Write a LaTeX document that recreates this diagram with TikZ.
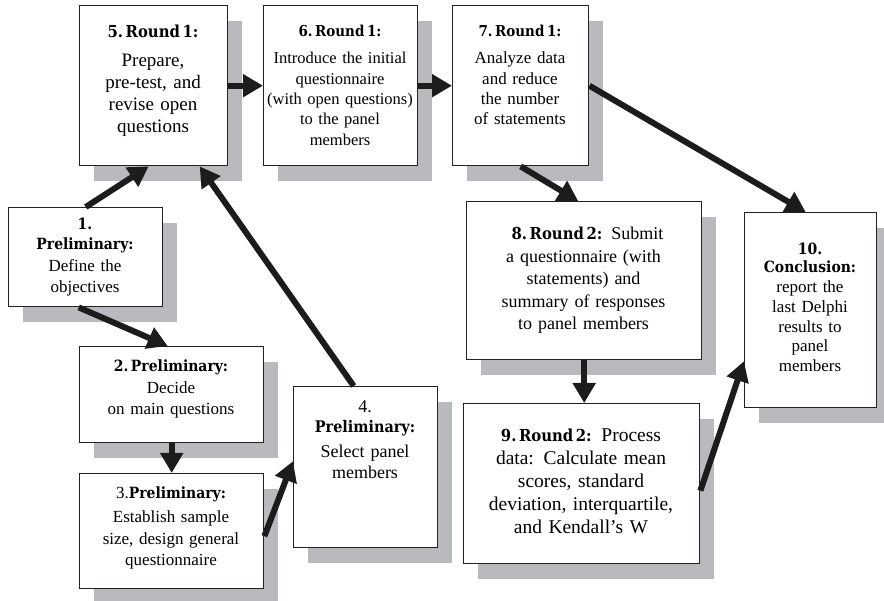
\documentclass[tikz,border=0pt]{standalone}
\usepackage{fontspec}
\setmainfont{Liberation Serif}
\newfontfamily\hfont[BoldFont={DejaVu Serif Condensed Bold}]{DejaVu Serif Condensed}
\usetikzlibrary{arrows.meta,shadows}
\definecolor{shadowc}{RGB}{185,186,190}
\definecolor{arrowc}{RGB}{28,28,28}
\definecolor{borderc}{RGB}{34,34,34}
\newcommand\hd[2][15.5]{{\hfont\bfseries\fontsize{#1}{#1}\selectfont #2}}
\newcommand\hsp{\hspace{2.6pt}}
\begin{document}
\begin{tikzpicture}[x=1pt,y=-1pt,
  box/.style={draw=borderc, line width=1.4pt, fill=white, anchor=north west, inner sep=0pt,
    drop shadow={shadow xshift=14pt, shadow yshift=-15pt, fill=shadowc, opacity=1}},
  txt/.style={anchor=base, align=center, inner sep=0pt, text width=#1},
  txt/.default=140pt,
  arr/.style={line width=6pt, draw=arrowc, -{Triangle[length=20pt,width=22pt]}}]
\useasboundingbox (0,0) rectangle (884,601);
% boxes
\node[box, minimum width=154pt, minimum height=99pt]  (b1)  at (8,207)  {};
\node[box, minimum width=184pt, minimum height=96pt]  (b2)  at (79,346) {};
\node[box, minimum width=184pt, minimum height=115pt] (b3)  at (79,473) {};
\node[box, minimum width=144pt, minimum height=161pt] (b4)  at (293,386) {};
\node[box, minimum width=148pt, minimum height=160pt] (b5)  at (79,5) {};
\node[box, minimum width=154pt, minimum height=160pt] (b6)  at (263,5) {};
\node[box, minimum width=136pt, minimum height=160pt] (b7)  at (452,5) {};
\node[box, minimum width=235pt, minimum height=158pt] (b8)  at (466,201) {};
\node[box, minimum width=236pt, minimum height=160pt] (b9)  at (463,403) {};
\node[box, minimum width=132pt, minimum height=195pt] (b10) at (744,212) {};
% texts
\node[txt=160pt, font=\fontsize{19}{21.7}\selectfont] (t5) at (153,38)
  {\hd[16.5]{5.\hsp Round\hsp 1:}\\[7.3pt] Prepare,\\ pre-test, and\\ revise open\\ questions};
\node[txt=170pt, font=\fontsize{16.5}{20.3}\selectfont] (t6) at (340,37)
  {\hd[15]{6.\hsp Round\hsp 1:}\\[6.7pt] Introduce the initial\\ questionnaire\\ (with open questions)\\ to the panel\\ members};
\node[txt=150pt, font=\fontsize{17}{20.2}\selectfont] (t7) at (520,37)
  {\hd[15]{7.\hsp Round\hsp 1:}\\[6.8pt] Analyze data\\ and reduce\\ the number\\ of statements};
\node[txt=160pt, font=\fontsize{17}{20.5}\selectfont] (t1) at (85,230)
  {\hd{1.}\\[-0.5pt] \hd{Preliminary:}\\[1.5pt] Define the\\ objectives};
\node[txt=190pt, font=\fontsize{17}{21}\selectfont] (t2) at (171,372)
  {\hd{2.\hsp Preliminary:}\\[1pt] Decide\\ on main questions};
\node[txt=190pt, font=\fontsize{17}{21.5}\selectfont] (t3) at (171,499)
  {3.\hd{Preliminary:}\\[2.5pt] Establish sample\\ size, design general\\ questionnaire};
\node[txt=150pt, font=\fontsize{18}{20.5}\selectfont] (t4) at (365,413)
  {4.\\[-0.5pt] \hd[16]{Preliminary:}\\[4.5pt] Select panel\\ members};
\node[txt=240pt, font=\fontsize{18}{22.5}\selectfont] (t8) at (583.5,240)
  {\hspace*{8pt}\hd[16.5]{8.\hsp Round\hsp 2:} Submit\\ a questionnaire (with\\ statements) and\\ summary of responses\\ to panel members};
\node[txt=240pt, font=\fontsize{19.5}{22.8}\selectfont] (t9) at (581,442)
  {\hd[16.5]{9.\hsp Round\hsp 2:} Process\hspace*{18pt}\\ data: Calculate mean\\ scores, standard\\ deviation, interquartile,\\ and Kendall's W};
\node[txt=140pt, font=\fontsize{17}{19.7}\selectfont] (t10) at (810,255)
  {\hd{10.}\\[-1.7pt] \hd{Conclusion:}\\ report the\\ last Delphi\\ results to\\ panel\\ members};
% connectors
\draw[arr] (b5.east) -- (b6.west);
\draw[arr] (b6.east) -- (b7.west);
\draw[arr] (b1.north) -- ([xshift=-5pt]b5.south);
\draw[arr] ([xshift=-12pt]b4.north) -- ([xshift=46pt]b5.south);
\draw[arr] ([xshift=-7pt]b1.south) -- ([xshift=-4pt]b2.north);
\draw[arr] (b2.south) -- (b3.north);
\draw[arr] ([yshift=-5pt]b3.east) -- ([yshift=6pt]b4.west);
\draw[arr] (b7.south) -- ([xshift=-6pt]b8.north);
\draw[arr] (b7.east) -- ([xshift=-5pt]b10.north);
\draw[arr] (b8.south) -- (b8.south |- b9.north);
\draw[arr] ([yshift=-7pt]b9.east) -- ([yshift=-51pt]b10.west);
\end{tikzpicture}
\end{document}
